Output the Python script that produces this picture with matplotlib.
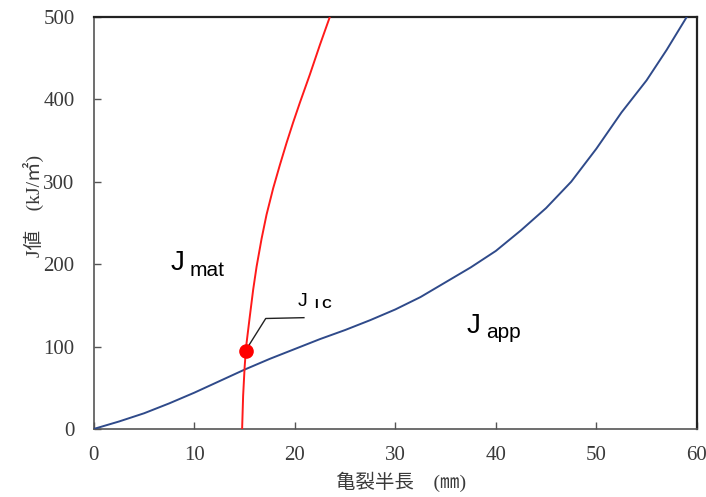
import matplotlib
matplotlib.use("Agg")
import matplotlib.pyplot as plt

# applied J (J_app) vs half crack length
a_app = [0, 2.5, 5, 7.5, 10, 12.5, 15, 17.5, 20, 22.5, 25, 27.5, 30, 32.5, 35,
         37.5, 40, 42.5, 45, 47.5, 50, 52.5, 55, 57, 59]
j_app = [0, 9, 19, 31, 44, 58, 72, 85, 97, 109, 120, 132, 145, 160, 178,
         196, 216, 241, 268, 300, 340, 384, 423, 460, 500]

# material resistance curve (J_mat)
a_mat = [14.75, 14.85, 15.0, 15.15, 15.5, 15.85, 16.19, 16.69, 17.18, 17.84,
         18.5, 19.17, 19.83, 20.5, 21.49, 22.49, 23.48]
j_mat = [0, 40, 75, 100, 135, 169, 197, 231, 260, 292,
         320, 347, 372, 396, 430, 466, 500]

# J_IC point
a_ic = 15.1
j_ic = 95

xticks = [0, 10, 20, 30, 40, 50, 60]
yticks = [0, 100, 200, 300, 400, 500]

serif = ["Liberation Serif", "Noto Sans CJK JP"]
sans = "Liberation Sans"

fig = plt.figure(figsize=(7.06, 4.97), dpi=100)
ax = fig.add_axes([0.133, 0.137, 0.854, 0.829])

ax.plot(a_app, j_app, color="#2f4a8a", lw=1.4, zorder=3)
ax.plot(a_mat, j_mat, color="#ff1a1a", lw=1.4, zorder=3)
ax.plot([a_ic], [j_ic], "o", color="#ff0000", ms=9.5, zorder=4)

# leader line to the J_IC label
ax.plot([15.35, 17.1, 20.9], [100, 134, 135], color="#222222", lw=1.0, zorder=3)

ax.set_xlim(0, 60)
ax.set_ylim(0, 500)
ax.set_xticks(xticks)
ax.set_yticks(yticks)
ax.tick_params(direction="in", length=5, width=1, colors="#555555",
               labelcolor="#3a3a3a", labelsize=15)
ax.tick_params(axis="x", pad=12)
ax.tick_params(axis="y", pad=14)
for lab in ax.get_xticklabels() + ax.get_yticklabels():
    lab.set_fontfamily("Liberation Serif")

for s in ["left", "bottom"]:
    ax.spines[s].set_color("#555555")
    ax.spines[s].set_linewidth(1.2)
for s in ["top", "right"]:
    ax.spines[s].set_color("#222222")
    ax.spines[s].set_linewidth(1.6)

ax.set_xlabel("亀裂半長　(㎜)", family=serif, fontsize=14, color="#3a3a3a")
ax.set_ylabel("J値　(kJ/㎡)", family=serif, fontsize=14, color="#3a3a3a")
ax.xaxis.set_label_coords(0.51, -0.104)
ax.yaxis.set_label_coords(-0.082, 0.54)

ax.text(7.63, 193, "J", family=sans, fontsize=20, color="black")
ax.text(9.55, 186, "mat", family=sans, fontsize=15, color="black")
ax.text(37.1, 116.5, "J", family=sans, fontsize=20, color="black")
ax.text(39.0, 110.4, "app", family=sans, fontsize=15, color="black")
ax.text(20.3, 149.6, "J", family=sans, fontsize=14, color="black")
ax.text(22.0, 147.2, "I C", family=sans, fontsize=9.5, color="black", fontweight="bold")

plt.savefig("out.png", dpi=100)
